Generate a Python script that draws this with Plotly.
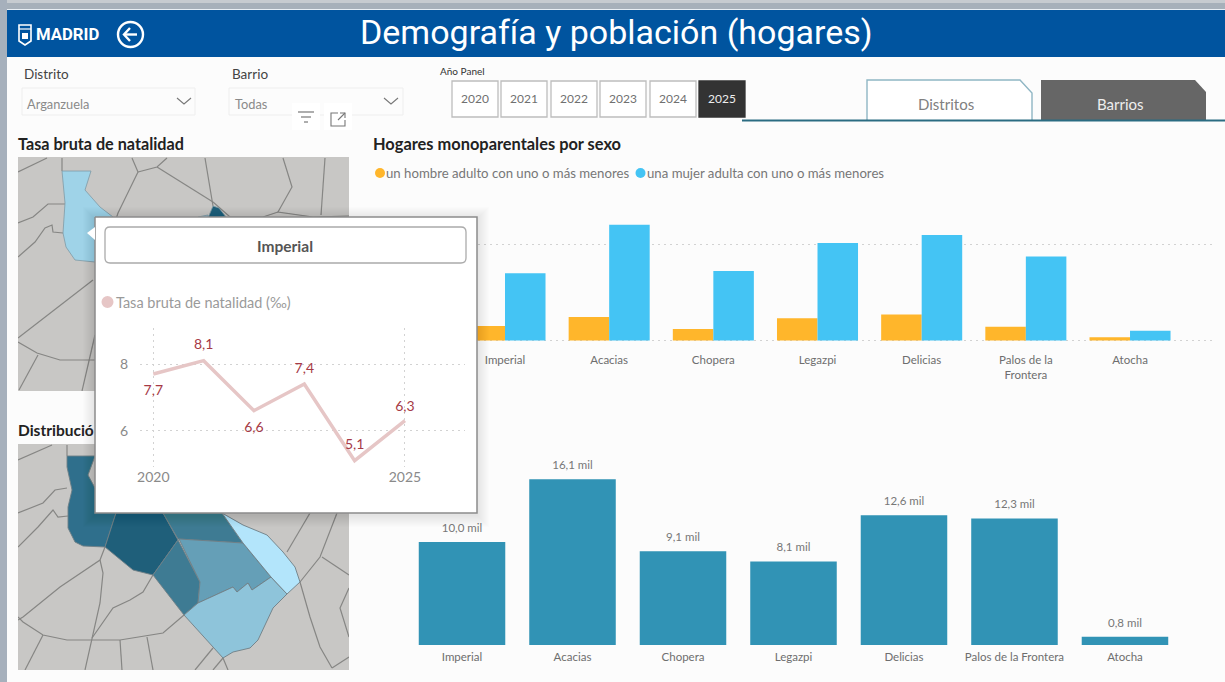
import plotly.graph_objects as go

W, H = 1225, 682

# ---------- data ----------
barrios_top = ["Imperial", "Acacias", "Chopera", "Legazpi", "Delicias", "Palos de la<br>Frontera", "Atocha"]
barrios_bottom = ["Imperial", "Acacias", "Chopera", "Legazpi", "Delicias", "Palos de la Frontera", "Atocha"]
hogares_hombre = [150, 243, 120, 230, 270, 143, 33]
hogares_mujer = [697, 1200, 720, 1010, 1095, 870, 101]
hogares_total_mil = [10.0, 16.1, 9.1, 8.1, 12.6, 12.3, 0.8]
anios = [2020, 2021, 2022, 2023, 2024, 2025]
natalidad = [7.7, 8.1, 6.6, 7.4, 5.1, 6.3]
natalidad_pos = ["bottom center", "top center", "bottom center", "top center", "top center", "top center"]
natalidad_gap = [15, 11, 15, 11, 11, 9]
year_buttons = ["2020", "2021", "2022", "2023", "2024", "2025"]
year_button_x = [452, 501, 551, 600, 650, 699]

# map outlines, in the reference's picture space
map1_regions = [
    ("#9FD3E8", [(62,171),(91,171),(85,190),(100,207),(113,217),(125,262),(95,262),(75,260),(66,247),(63,233),(65,203)]),
    ("#1F5F7A", [(213,206),(219,208),(226,217),(208,218)]),
    ("#8EC4DA", [(198,217),(208,215),(208,219),(198,219)]),
]
map1_lines = [
    [(18,172),(47,158)], [(62,158),(62,171)], [(132,158),(138,172),(118,213),(115,222)],
    [(167,158),(157,167),(138,172)], [(157,167),(213,202)], [(205,158),(213,206)],
    [(213,202),(230,217),(263,217),(278,212)], [(283,158),(292,187),(278,212),(313,217),(349,216)],
    [(325,158),(321,215)], [(18,223),(33,217),(48,204),(65,204)],
    [(18,257),(35,242),(45,228),(52,225),(53,232),(63,233)], [(18,338),(93,280)],
    [(18,342),(37,353),(60,360),(95,360)], [(38,355),(19,390)], [(95,335),(82,391)],
]
map2_regions = [
    ("#2F6F8C", [(67,456),(95,456),(88,475),(95,488),(116,513),(105,547),(83,546),(75,542),(68,528),(68,507),(72,490),(67,467)]),
    ("#1F5F7A", [(116,513),(163,513),(178,540),(153,575),(133,570),(117,557),(105,547)]),
    ("#3E7B93", [(163,513),(222,513),(243,543),(178,539)]),
    ("#3E7B93", [(178,540),(200,582),(198,603),(184,615),(153,575)]),
    ("#659FB7", [(179,539),(243,543),(271,577),(252,590),(248,583),(237,592),(233,587),(198,603),(200,582)]),
    ("#8EC4DA", [(184,615),(198,603),(233,587),(237,592),(248,583),(252,590),(271,577),(287,594),(273,608),(258,640),(250,648),(233,652),(223,658)]),
    ("#B3E5FB", [(222,513),(243,525),(267,535),(283,552),(295,567),(300,582),(287,594),(271,577),(243,543)]),
]
map2_lines = [
    [(18,460),(52,445)], [(18,513),(43,503),(55,490),(67,488)],
    [(18,547),(38,527),(53,510),(58,517),(68,516)],
    [(105,547),(100,560),(60,587),(23,617),(18,620)],
    [(100,560),(103,573),(100,603),(92,640),(85,670)],
    [(153,575),(143,592),(130,600),(113,608),(92,638)],
    [(18,617),(23,622),(43,635),(67,640),(93,640),(120,640),(163,633),(184,615)],
    [(43,635),(25,670)], [(120,640),(122,670)], [(147,637),(153,670)],
    [(213,648),(195,670)], [(223,658),(215,667),(213,670)], [(223,658),(228,670)],
    [(287,552),(310,513)], [(300,582),(320,557),(337,513)], [(322,557),(349,575)],
    [(300,582),(310,617),(320,647),(332,668)], [(332,668),(349,657)],
    [(349,588),(340,608),(349,637)], [(67,445),(67,456)],
]

FONT = "Lato"
TITLE_FONT = "Roboto"
GREY = "#777777"


def dom_x(a, b):
    return [a / W, b / W]


def dom_y(top, bottom):
    return [1 - bottom / H, 1 - top / H]


fig = go.Figure()


def poly_trace(points, fill, xa, ya, line=None, lw=0):
    xs = [p[0] for p in points] + [points[0][0]]
    ys = [p[1] for p in points] + [points[0][1]]
    fig.add_trace(go.Scatter(x=xs, y=ys, mode="lines", fill="toself", fillcolor=fill,
                             line=dict(color=line or "rgba(0,0,0,0)", width=lw),
                             hoverinfo="skip", showlegend=False, xaxis=xa, yaxis=ya))


def lines_trace(segments, xa, ya):
    xs, ys = [], []
    for seg in segments:
        xs += [p[0] for p in seg] + [None]
        ys += [p[1] for p in seg] + [None]
    fig.add_trace(go.Scatter(x=xs, y=ys, mode="lines", line=dict(color="#868684", width=1.2),
                             hoverinfo="skip", showlegend=False, xaxis=xa, yaxis=ya))


MAP_GREY = "#C8C7C5"
# map 1
poly_trace([(18,157),(349,157),(349,391),(18,391)], MAP_GREY, "x", "y")
lines_trace(map1_lines, "x", "y")
for c, pts in map1_regions:
    poly_trace(pts, c, "x", "y", "#7F9AA6", 0.8)
# map 2
poly_trace([(18,444),(349,444),(349,670),(18,670)], MAP_GREY, "x2", "y2")
lines_trace(map2_lines, "x2", "y2")
for c, pts in map2_regions:
    poly_trace(pts, c, "x2", "y2", "#6F7F86", 0.9)

# bars top
fig.add_trace(go.Bar(x=barrios_top, y=hogares_hombre, marker=dict(color="#FFB62B", line=dict(width=0)),
                     hoverinfo="skip", showlegend=False, xaxis="x3", yaxis="y3"))
fig.add_trace(go.Bar(x=barrios_top, y=hogares_mujer, marker=dict(color="#44C4F4", line=dict(width=0)),
                     hoverinfo="skip", showlegend=False, xaxis="x3", yaxis="y3"))
# bars bottom
fig.add_trace(go.Bar(x=barrios_bottom, y=hogares_total_mil, marker=dict(color="#3193B5", line=dict(width=0)),
                     hoverinfo="skip", showlegend=False, xaxis="x4", yaxis="y4", width=0.783))
fig.add_trace(go.Scatter(x=barrios_bottom, y=hogares_total_mil, mode="markers+text",
                         text=[f"{v:.1f}".replace(".", ",") + " mil" for v in hogares_total_mil],
                         textposition="top center", cliponaxis=False,
                         marker=dict(size=10, opacity=0),
                         textfont=dict(family=FONT, size=11.5, color=GREY),
                         hoverinfo="skip", showlegend=False, xaxis="x4", yaxis="y4"))

# popup panel with soft shadow, on a page-sized axis
PX0, PY0, PX1, PY1 = 95, 217, 477, 513
for i in range(12, 0, -1):
    poly_trace([(PX0-i, PY0-i+2), (PX1+i, PY0-i+2), (PX1+i, PY1+i+2), (PX0-i, PY1+i+2)],
               "rgba(0,0,0,0.008)", "x5", "y5")
poly_trace([(PX0, PY0), (PX1, PY0), (PX1, PY1), (PX0, PY1)], "#FFFFFF", "x5", "y5", "#8C8C8C", 1.5)
poly_trace([(87,233),(95,227),(95,240)], "#FFFFFF", "x5", "y5")

# popup line
fig.add_trace(go.Scatter(x=anios, y=natalidad, mode="lines+markers+text",
                         text=[f"{v:.1f}".replace(".", ",") for v in natalidad],
                         textposition=natalidad_pos, cliponaxis=False,
                         marker=dict(size=natalidad_gap, opacity=0),
                         textfont=dict(family=FONT, size=14, color="#A63A46"),
                         line=dict(color="#E6C6C6", width=3.5), hoverinfo="skip",
                         showlegend=False, xaxis="x6", yaxis="y6"))

hidden = dict(visible=False, fixedrange=True, automargin=False)
GRID = dict(showgrid=True, gridcolor="#D2D2D2", griddash="2px,4px", gridwidth=1.4, zeroline=False, showline=False,
            fixedrange=True, automargin=False)
layout = dict(
    width=W, height=H, autosize=False, margin=dict(l=0, r=0, t=0, b=0, pad=0),
    paper_bgcolor="#FCFCFC", plot_bgcolor="rgba(0,0,0,0)", barmode="group", bargap=0.222, bargroupgap=0,
    font=dict(family=FONT, color=GREY), showlegend=False,
    xaxis=dict(domain=dom_x(18,349), range=[18,349], anchor="y", **hidden),
    yaxis=dict(domain=dom_y(157,391), range=[391,157], anchor="x", **hidden),
    xaxis2=dict(domain=dom_x(18,349), range=[18,349], anchor="y2", **hidden),
    yaxis2=dict(domain=dom_y(444,670), range=[670,444], anchor="x2", **hidden),
    xaxis3=dict(domain=dom_x(400,1212), range=[-1.008,6.787], anchor="y3", type="category", automargin=False,
                categoryorder="array", categoryarray=barrios_top, showgrid=False, showline=False, zeroline=False,
                ticks="outside", ticklen=6, tickcolor="rgba(0,0,0,0)", tickfont=dict(family=FONT, size=11.5, color="#6E6E6E"), fixedrange=True),
    yaxis3=dict(domain=dom_y(205.5,343.4), range=[-30,1400], anchor="x3", tickvals=[0,1000], showticklabels=False, **GRID),
    xaxis4=dict(domain=dom_x(405,1180), range=[-0.516,6.498], anchor="y4", type="category", automargin=False,
                categoryorder="array", categoryarray=barrios_bottom, showgrid=False, showline=False, zeroline=False,
                ticks="outside", ticklen=1, tickcolor="rgba(0,0,0,0)", tickfont=dict(family=FONT, size=11.5, color="#6E6E6E"), fixedrange=True),
    yaxis4=dict(domain=dom_y(470,645), range=[0,17], anchor="x4", **hidden),
    xaxis5=dict(domain=[0,1], range=[0,W], anchor="y5", **hidden),
    yaxis5=dict(domain=[0,1], range=[H,0], anchor="x5", **hidden),
    xaxis6=dict(domain=dom_x(140,465), range=[2019.736,2026.193], anchor="y6", tickvals=[2020,2025],
                tickformat="d", ticks="",
                tickfont=dict(family=FONT, size=14, color="#8A8A8A"), **GRID),
    yaxis6=dict(domain=dom_y(328,467), range=[4.91,9.08], anchor="x6", tickvals=[6,8],
                ticks="outside", ticklen=8, tickcolor="rgba(0,0,0,0)",
                tickfont=dict(family=FONT, size=14, color="#8A8A8A"), **GRID),
)

shapes = []
annots = []


def P(x, y):
    return x / W, 1 - y / H


def rect(x0, y0, x1, y1, fill=None, line=None, lw=1, layer="below"):
    a, b = P(x0, y0)
    c, d = P(x1, y1)
    shapes.append(dict(type="rect", xref="paper", yref="paper", x0=a, y0=b, x1=c, y1=d,
                       fillcolor=fill or "rgba(0,0,0,0)", layer=layer,
                       line=dict(color=line or "rgba(0,0,0,0)", width=lw if line else 0)))


def path(points, fill=None, line=None, lw=1, close=False, layer="below"):
    d = ""
    for i, (x, y) in enumerate(points):
        a, b = P(x, y)
        d += f"{'M' if i == 0 else 'L'}{a:.5f},{b:.5f} "
    if close:
        d += "Z"
    shapes.append(dict(type="path", path=d, xref="paper", yref="paper", layer=layer,
                       fillcolor=fill or "rgba(0,0,0,0)",
                       line=dict(color=line or "rgba(0,0,0,0)", width=lw if line else 0)))


def dot(x, y, r, fill, layer="below"):
    a, b = P(x - r, y - r)
    c, d = P(x + r, y + r)
    shapes.append(dict(type="circle", xref="paper", yref="paper", x0=a, y0=b, x1=c, y1=d,
                       fillcolor=fill, layer=layer, line=dict(width=0)))


def text(x, y, s, size=12, color=GREY, anchor="left", family=FONT, bold=False):
    a, b = P(x, y)
    annots.append(dict(xref="paper", yref="paper", x=a, y=b, text=f"<b>{s}</b>" if bold else s, showarrow=False,
                       xanchor=anchor, yanchor="middle", font=dict(family=family, size=size, color=color),
                       borderpad=0, borderwidth=0))


# frame
rect(0, 0, W, 3, "#C6CBD0")
rect(0, 3, W, 9, "#A6B0BA")
rect(0, 0, 7, H, "#A6B0BC")
rect(7, 9, W, 10, "#E8EEF4")
rect(7, 10, W, 57, "#00549F")

# header
text(616.5, 32, "Demografía y población (hogares)", 34, "#FFFFFF", "center", TITLE_FONT)
text(36, 35, "MADRID", 16.7, "#FFFFFF", "left", TITLE_FONT, True)
path([(19,25),(31,25),(31,41),(25,45),(19,41)], None, "#FFFFFF", 1.6, True)
path([(19,29),(31,29)], None, "#FFFFFF", 1.2)
path([(22,33),(28,33),(28,39),(22,39)], "#FFFFFF", None, 0, True)
a0, b0 = P(118, 22)
a1, b1 = P(143, 47)
shapes.append(dict(type="circle", xref="paper", yref="paper", x0=a0, y0=b0, x1=a1, y1=b1, layer="below",
                   line=dict(color="#FFFFFF", width=2.4), fillcolor="rgba(0,0,0,0)"))
path([(137,34.5),(124,34.5)], None, "#FFFFFF", 2.4)
path([(130,28),(124,34.5),(130,41)], None, "#FFFFFF", 2.4)

# slicers
text(24, 74, "Distrito", 13.5, "#444444")
text(232, 74, "Barrio", 13.5, "#444444")
rect(22, 88, 195, 115, "#FCFCFC", "#EEEEEE", 1)
rect(229, 88, 403, 115, "#FCFCFC", "#EEEEEE", 1)
text(27, 104.5, "Arganzuela", 12.8, "#8A8A8A")
text(235, 104.5, "Todas", 12.8, "#8A8A8A")
path([(177,98),(184,104),(191,98)], None, "#777777", 1.1)
path([(384,98),(391,104),(398,98)], None, "#777777", 1.1)
rect(292, 103, 320, 130, "#FFFFFF")
rect(324, 103, 352, 130, "#FFFFFF")
path([(298,112),(314,112)], None, "#777777", 1.2)
path([(301,117),(311,117)], None, "#777777", 1.2)
path([(304,122),(308,122)], None, "#777777", 1.2)
path([(338,113),(331,113),(331,126),(345,126),(345,120)], None, "#777777", 1.1)
path([(338,120),(345,113)], None, "#777777", 1.1)
path([(340,113),(345,113),(345,118)], None, "#777777", 1.1)

# year buttons
text(440, 71, "Año Panel", 10, "#333333")
for lbl, x in zip(year_buttons, year_button_x):
    sel = lbl == "2025"
    rect(x, 81, x + 46, 117, "#333333" if sel else "#FFFFFF", "#333333" if sel else "#BDBDBD", 1.3)
    text(x + 23, 99, lbl, 12, "#EEEEEE" if sel else "#707070", "center")

# tabs
path([(867,120),(867,80),(1020,80),(1032,93),(1032,120)], "#FFFFFF", "#8FB6C4", 1.4)
path([(1041,120),(1041,80),(1195,80),(1206,92),(1206,120)], "#666666")
path([(742,120.5),(W,120.5)], None, "#2B6C82", 2)
text(946, 104.5, "Distritos", 15, "#808080", "center")
text(1120, 104.5, "Barrios", 15, "#EEEEEE", "center")

# titles
text(18, 143, "Tasa bruta de natalidad", 16.2, "#222222", "left", FONT, True)
text(373, 143, "Hogares monoparentales por sexo", 16.4, "#222222", "left", FONT, True)
text(18, 430, "Distribució", 15.5, "#222222", "left", FONT, True)

# legend
dot(380, 173, 5, "#FFB62B")
text(386, 173, "un hombre adulto con uno o más menores", 13.2, GREY)
dot(640.5, 173, 5, "#44C4F4")
text(647, 173, "una mujer adulta con uno o más menores", 13.2, GREY)

# popup furniture (above the panel)
a, b = P(105, 227)
c, d = P(466, 263)
r_x, r_y = 5 / W, 5 / H
shapes.append(dict(type="path", xref="paper", yref="paper", layer="above", fillcolor="#FFFFFF",
                   line=dict(color="#ABABAB", width=1.3),
                   path=f"M{a+r_x:.5f},{b:.5f} L{c-r_x:.5f},{b:.5f} Q{c:.5f},{b:.5f} {c:.5f},{b-r_y:.5f} "
                        f"L{c:.5f},{d+r_y:.5f} Q{c:.5f},{d:.5f} {c-r_x:.5f},{d:.5f} L{a+r_x:.5f},{d:.5f} "
                        f"Q{a:.5f},{d:.5f} {a:.5f},{d+r_y:.5f} L{a:.5f},{b-r_y:.5f} Q{a:.5f},{b:.5f} {a+r_x:.5f},{b:.5f} Z"))
text(285, 246, "Imperial", 15.5, "#555555", "center", FONT, True)
dot(107.5, 302, 6, "#E6C6C6", "above")
text(116, 302.5, "Tasa bruta de natalidad (‰)", 14.5, "#9A9A9A")

layout["shapes"] = shapes
layout["annotations"] = annots
fig.update_layout(**layout)

fig.write_html("out.html", config=dict(displayModeBar=False),
               post_script="document.body.style.margin='0';document.body.style.overflow='hidden';"
                           "document.querySelectorAll('.svg-container').forEach(function(e){e.style.margin='0';});")
